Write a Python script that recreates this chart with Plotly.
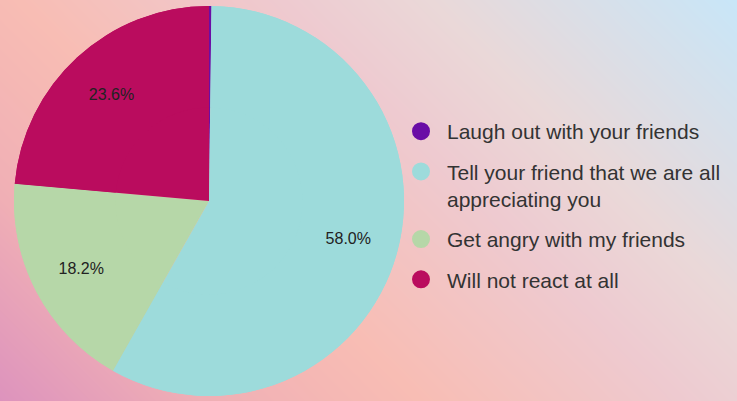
import numpy as np
import plotly.graph_objects as go

# ---- data ----
labels = [
    "Laugh out with your friends",
    "Tell your friend that we are all<br>appreciating you",
    "Get angry with my friends",
    "Will not react at all",
]
values = [0.2, 58.0, 18.2, 23.6]
colors = ["#6A0DA6", "#9DDBDB", "#B6D7A8", "#BA0C5E"]
text_pos = ["none", "inside", "inside", "inside"]

W, H = 737, 401

# ---- background gradient (decoration) ----
gx = np.linspace(0, W, 30)
gy = np.linspace(0, H, 18)
GX, GY = np.meshgrid(gx, gy)
S = (GX + GY) / (W + H)
bg_scale = [
    [0.0, "#DD93BD"],
    [0.18, "#F0AFB5"],
    [0.37, "#F8BDB4"],
    [0.6, "#EECAD0"],
    [0.73, "#EAD8D8"],
    [1.0, "#C8E6F8"],
]

pie_domain = dict(x=[14 / W, 404 / W], y=[5 / H, 395 / H])

fig = go.Figure()
fig.add_trace(go.Heatmap(
    x=gx, y=gy, z=S, colorscale=bg_scale, zmin=0, zmax=1,
    zsmooth="best", showscale=False, hoverinfo="skip",
))

# full pie (no text)
fig.add_trace(go.Pie(
    labels=labels, values=values, sort=False, direction="clockwise", rotation=0,
    marker=dict(colors=colors, line=dict(width=0)),
    textinfo="none", domain=pie_domain, showlegend=False, hoverinfo="skip",
))
# ring overlay carrying the percentage labels at outer radius
fig.add_trace(go.Pie(
    labels=labels, values=values, sort=False, direction="clockwise", rotation=0,
    hole=0.48,
    marker=dict(colors=colors, line=dict(width=0)),
    texttemplate="%{percent:.1%}", textposition=text_pos,
    insidetextorientation="horizontal",
    textfont=dict(family="Liberation Sans, Arial", size=16, color="#222222"),
    domain=pie_domain, showlegend=False, hoverinfo="skip",
))

for lab, col in zip(labels, colors):
    fig.add_trace(go.Scatter(
        x=[None], y=[None], mode="markers", name=lab, legendgroup=lab,
        marker=dict(symbol="circle", size=16, color=col, line=dict(color=col, width=2)),
        hoverinfo="skip",
    ))

fig.update_layout(
    width=W, height=H,
    margin=dict(l=0, r=0, t=0, b=0),
    paper_bgcolor="#F4C6C0",
    plot_bgcolor="rgba(0,0,0,0)",
    xaxis=dict(range=[0, W], visible=False, fixedrange=True),
    yaxis=dict(range=[0, H], visible=False, fixedrange=True),
    showlegend=True,
    legend=dict(
        x=395 / W, xanchor="left", y=1 - 111 / H, yanchor="top",
        font=dict(family="Liberation Sans, Arial", size=21, color="#333333"),
        bgcolor="rgba(0,0,0,0)", traceorder="grouped", tracegroupgap=10,
        valign="top", itemsizing="trace", itemwidth=42,
    ),
)

fig.write_html("out.html")
